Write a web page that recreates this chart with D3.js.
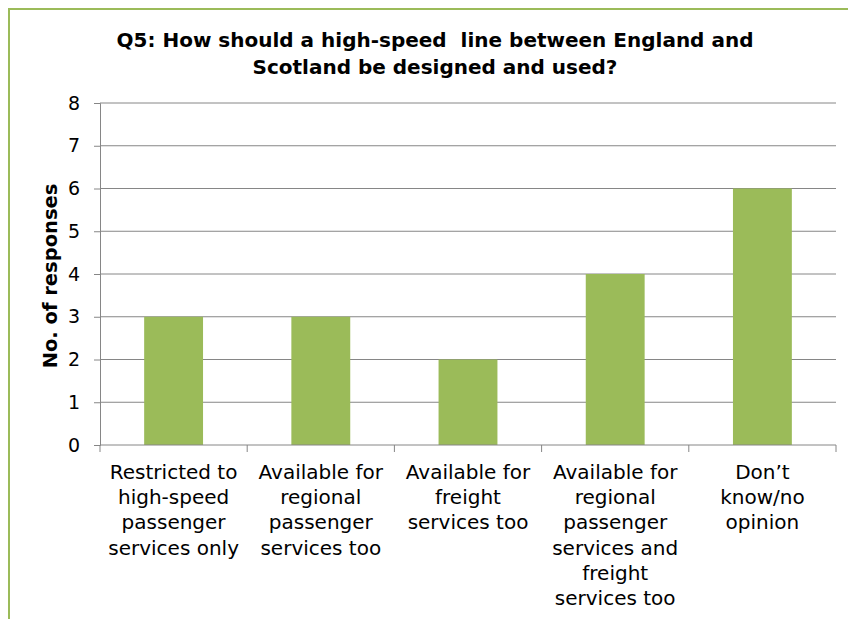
<!DOCTYPE html>
<html>
<head>
<meta charset="utf-8">
<script src="https://cdn.jsdelivr.net/npm/d3@7"></script>
<style>
  body { margin: 0; background: #fff; }
  svg { display: block; }
  text { font-family: "DejaVu Sans", Verdana, sans-serif; fill: #000; }
</style>
</head>
<body>
<div id="chart"></div>
<script>
// Data
var categories = [
    ["Restricted to", "high-speed", "passenger", "services only"]
   ,["Available for", "regional", "passenger", "services too"]
   ,["Available for", "freight", "services too"]
   ,["Available for", "regional", "passenger", "services and", "freight", "services too"]
   ,["Don\u2019t", "know/no", "opinion"]
];
var responses = [3, 3, 2, 4, 6];
var yTicks = [0, 1, 2, 3, 4, 5, 6, 7, 8];
var titleLines = ["Q5: How should a high-speed  line between England and", "Scotland be designed and used?"];

var W = 848, H = 619;
var m = {top: 103, right: 12, bottom: 174, left: 100};

var svg = d3.select('#chart').append('svg')
    .attr('width', W)
    .attr('height', H);

// green frame (only left and top visible)
svg.append('rect')
    .attr('x', 9).attr('y', 9)
    .attr('width', W + 20).attr('height', H + 20)
    .attr('fill', 'none')
    .attr('stroke', '#9BBB59')
    .attr('stroke-width', 2);

var x = d3.scaleBand()
    .domain(d3.range(categories.length))
    .range([m.left, W - m.right])
    .paddingInner(0.6)
    .paddingOuter(0.3);

var y = d3.scaleLinear()
    .domain([0, 8])
    .range([H - m.bottom, m.top]);

// gridlines
svg.append('g')
    .selectAll('line')
    .data(yTicks.slice(1))
    .enter().append('line')
    .attr('x1', m.left).attr('x2', W - m.right)
    .attr('y1', function(d){ return y(d); })
    .attr('y2', function(d){ return y(d); })
    .attr('stroke', '#868686')
    .attr('stroke-width', 1);

// bars
svg.append('g')
    .selectAll('rect')
    .data(responses)
    .enter().append('rect')
    .attr('x', function(d, i){ return x(i); })
    .attr('y', function(d){ return y(d); })
    .attr('width', x.bandwidth())
    .attr('height', function(d){ return y(0) - y(d); })
    .attr('fill', '#9BBB59');

// y axis
var yAxis = svg.append('g')
    .attr('transform', 'translate(' + m.left + ',0)')
    .call(d3.axisLeft(y).tickValues(yTicks).tickSize(6).tickPadding(14).tickFormat(d3.format('d')));
yAxis.select('.domain').attr('stroke', '#868686');
yAxis.selectAll('.tick line').attr('stroke', '#868686');
yAxis.selectAll('.tick text')
    .attr('font-size', 19)
    .attr('font-family', '"DejaVu Sans", Verdana, sans-serif');

// x axis: ticks on band edges
var step = x.step();
var edges = d3.range(categories.length + 1).map(function(i){ return m.left + i * step; });
var xg = svg.append('g');
xg.append('line')
    .attr('x1', m.left).attr('x2', W - m.right)
    .attr('y1', y(0)).attr('y2', y(0))
    .attr('stroke', '#868686');
xg.selectAll('line.tk')
    .data(edges)
    .enter().append('line')
    .attr('class', 'tk')
    .attr('x1', function(d){ return d; }).attr('x2', function(d){ return d; })
    .attr('y1', y(0)).attr('y2', y(0) + 7)
    .attr('stroke', '#868686');

// category labels
var lab = svg.append('g')
    .selectAll('text')
    .data(categories)
    .enter().append('text')
    .attr('text-anchor', 'middle')
    .attr('font-size', 20)
    .attr('transform', function(d, i){ return 'translate(' + (x(i) + x.bandwidth() / 2) + ',' + (y(0) + 34) + ')'; });
lab.selectAll('tspan')
    .data(function(d){ return d; })
    .enter().append('tspan')
    .attr('x', 0)
    .attr('y', function(d, j){ return j * 25.2; })
    .text(function(d){ return d; });

// y axis title
svg.append('text')
    .attr('transform', 'translate(57,' + ((y(0) + y(8)) / 2 + 2) + ') rotate(-90)')
    .attr('text-anchor', 'middle')
    .attr('font-size', 19.5)
    .attr('font-weight', 'bold')
    .text('No. of responses');

// chart title
svg.append('g')
    .selectAll('text')
    .data(titleLines)
    .enter().append('text')
    .attr('x', 435)
    .attr('y', function(d, i){ return 47 + i * 27; })
    .attr('text-anchor', 'middle')
    .attr('font-size', 20)
    .attr('font-weight', 'bold')
    .style('white-space', 'pre')
    .text(function(d){ return d; });
</script>
</body>
</html>
